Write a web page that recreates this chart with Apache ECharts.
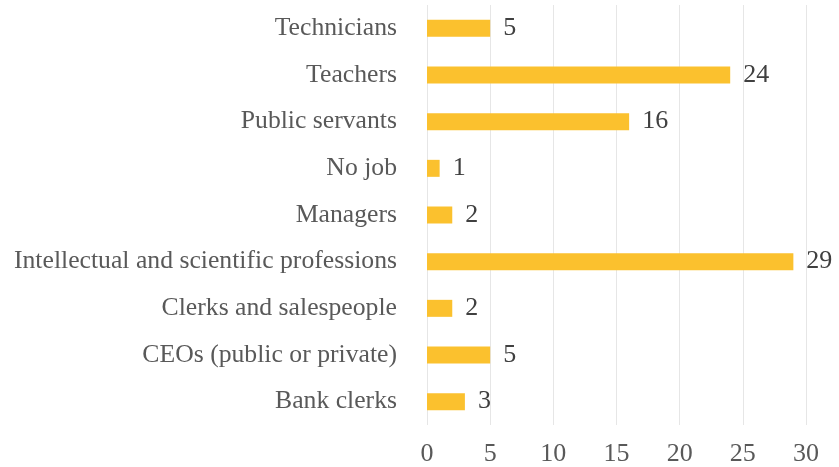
<!DOCTYPE html>
<html>
<head>
<meta charset="utf-8">
<script src="https://cdn.jsdelivr.net/npm/echarts@6/dist/echarts.min.js"></script>
<style>
  html, body { margin: 0; padding: 0; background: #fff; }
  #chart { width: 839px; height: 467px; }
</style>
</head>
<body>
<div id="chart"></div>
<script>
// bottom to top, as drawn on the category axis
const categories = [
  'Bank clerks',
  'CEOs (public or private)',
  'Clerks and salespeople',
  'Intellectual and scientific professions',
  'Managers',
  'No job',
  'Public servants',
  'Teachers',
  'Technicians'
];
const counts = [3, 5, 2, 29, 2, 1, 16, 24, 5];
const xTicks = [0, 30, 5]; // min, max, step

const font = 'Liberation Serif, Times New Roman, serif';
const myChart = echarts.init(document.getElementById('chart'));

myChart.setOption({
  animation: false,
  grid: { left: 427, right: 33, top: 5, bottom: 42, containLabel: false },
  xAxis: {
    type: 'value',
    min: xTicks[0],
    max: xTicks[1],
    interval: xTicks[2],
    axisLine: { show: false },
    axisTick: { show: false },
    splitLine: { lineStyle: { color: '#e6e6e6', width: 1 } },
    axisLabel: { color: '#595959', fontFamily: font, fontSize: 26, margin: 16 }
  },
  yAxis: {
    type: 'category',
    data: categories,
    axisLine: { show: false },
    axisTick: { show: false },
    axisLabel: { color: '#595959', fontFamily: font, fontSize: 25.7, margin: 30 }
  },
  series: [{
    type: 'bar',
    data: counts,
    barWidth: 17,
    itemStyle: { color: '#fbc12e' },
    label: {
      show: true,
      position: 'right',
      distance: 13,
      color: '#404040',
      fontFamily: font,
      fontSize: 26
    }
  }]
});
</script>
</body>
</html>
